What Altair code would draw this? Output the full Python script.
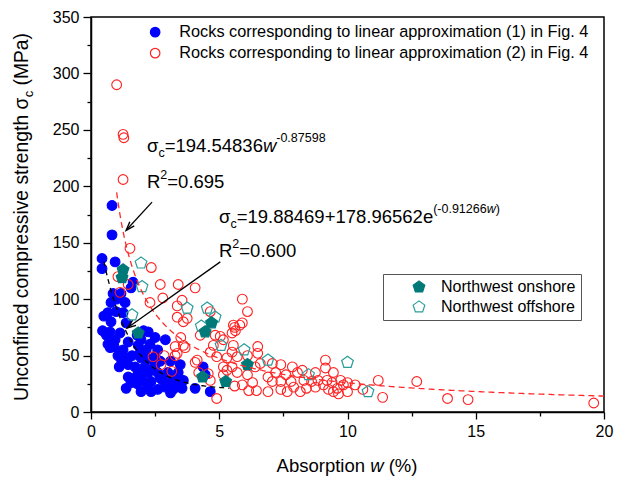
import math
import altair as alt
import pandas as pd

# ---------------- data ----------------
G1 = "Rocks corresponding to linear approximation (1) in Fig. 4"
G2 = "Rocks corresponding to linear approximation (2) in Fig. 4"
ON = "Northwest onshore"
OFF = "Northwest offshore"

blue_w = [0.82, 0.82, 0.43, 0.43, 0.94, 1.64, 1.56, 0.86, 1.17, 0.78, 1.33, 0.66, 0.98, 1.25,
          0.78, 1.37, 0.74, 1.13, 2.23, 2.5, 2.9, 1.45, 0.94, 1.95, 0.45, 0.6, 0.75, 0.9, 0.5,
          0.66, 1.05, 1.45, 1.84, 2.15, 1.95, 2.5, 1.45, 1.84, 2.23, 2.6, 3.0, 3.28, 1.37, 1.95,
          2.34, 2.9, 1.72, 2.1, 2.5, 1.56, 2.34, 3.48, 3.4, 3.6, 3.55, 3.2, 4.06, 4.37, 4.45,
          4.65, 1.2, 1.6, 1.7, 2.0, 2.2, 2.3, 2.7, 2.8, 3.1, 3.2, 2.6, 1.9, 2.0, 2.4, 2.7, 3.0,
          3.4, 1.8, 2.2, 2.6, 3.1, 1.25, 1.35, 1.1, 2.05, 1.8, 1.0]
blue_s = [183, 157, 136, 127, 133, 115, 110, 105, 105, 97, 97, 88, 89, 88,
          80, 79, 71, 70, 71, 66, 64, 62, 64, 64, 72, 68, 57, 58, 85,
          60, 50, 42, 59, 55, 48, 49, 31, 35, 35, 35, 35, 30, 21, 18,
          18, 22, 40, 40, 42, 26, 27, 42, 35, 28, 21, 20, 21, 40, 33,
          18, 45, 50, 30, 28, 47, 60, 45, 28, 45, 28, 55, 52, 36, 38, 30, 25,
          25, 25, 22, 20, 17, 55, 48, 40, 72, 68, 100]

red_w = [1.0, 1.25, 1.28, 1.25, 1.52, 2.35, 1.05, 1.13, 1.45, 2.7, 3.4, 4.06, 2.3, 2.8, 3.36,
         3.55, 3.36, 3.75, 4.26, 5.6, 3.5, 3.36, 3.67, 4.14, 4.2, 4.57, 4.9, 5.16, 2.42, 2.85,
         3.28, 2.73, 3.15, 3.6, 3.28, 3.6, 4.06, 4.77, 5.16, 5.55, 5.5, 5.8, 5.55, 5.63, 4.65,
         4.9, 5.3, 5.7, 6.1, 6.4, 5.3, 5.7, 6.1, 6.3, 5.9, 6.15, 6.45, 5.6, 4.65, 4.65, 6.1,
         5.9, 5.9, 5.04, 4.84, 6.5, 6.5, 6.6, 7.07, 7.4, 7.85, 8.24, 8.75, 9.14, 9.14, 9.45,
         9.73, 10.0, 10.3, 11.2, 11.37, 5.16, 6.9, 7.4, 7.65, 7.9, 8.16, 8.4, 8.75, 9.06, 9.26,
         9.45, 9.6, 9.84, 10.0, 9.65, 6.9, 7.2, 7.6, 7.07, 7.4, 7.8, 8.05, 8.3, 8.6, 8.85, 9.2,
         9.4, 5.5, 12.7, 13.9, 14.7, 19.6, 10.6, 5.5]
red_s = [290, 246, 243, 206, 145, 128, 120, 106, 113, 113, 113, 110, 97, 101, 94,
         99, 84, 83, 68, 75, 66, 52, 57, 46, 35, 34, 12, 33, 49, 50,
         50, 42, 36, 80, 58, 59, 44, 59, 64, 59, 70, 77, 77, 72, 53,
         49, 48, 49, 50, 40, 37, 35, 33, 26, 24, 19, 19, 23, 28, 89, 89,
         79, 100, 67, 68, 58, 52, 43, 43, 42, 40, 37, 35, 46, 39, 35,
         28, 26, 24, 28, 13, 40, 18, 20, 18, 22, 18, 21, 22, 24, 20,
         18, 21, 24, 18, 16, 31, 35, 33, 27, 27, 27, 35, 28, 27, 28, 28,
         26, 40, 27, 12, 11, 8, 20, 53]

on_w = [1.25, 1.21, 1.84, 4.7, 4.45, 4.35, 5.25, 6.1]
on_s = [126, 119, 70, 79, 71, 31, 27, 42]
off_w = [1.95, 1.99, 1.6, 3.75, 4.53, 4.3, 4.84, 5.07, 5.97, 6.9, 8.48, 10.0, 10.8]
off_s = [132, 111, 86, 92, 92, 76, 84, 59, 55, 46, 33, 44, 18]

x_tick_values = [0, 2.5, 5, 7.5, 10, 12.5, 15, 17.5, 20]
y_tick_values = [0, 25, 50, 75, 100, 125, 150, 175, 200, 225, 250, 275, 300, 325, 350]

# fitted models (as printed on the chart)
pow_a, pow_b = 194.54836, -0.87598
exp_a, exp_b, exp_c = 19.88469, 178.96562, -0.91266

# ---------------- layout ----------------
W, H = 513, 395
PAD = {"left": 91, "top": 17, "right": 22, "bottom": 66}
FONT = "Liberation Sans"
F = 18.5
FS = 12.5

EM = {" ": .278, "U": .722, "n": .556, "c": .5, "o": .556, "f": .278, "i": .222, "e": .556,
      "d": .556, "m": .833, "p": .556, "r": .333, "s": .5, "v": .5, "t": .278, "g": .556,
      "h": .556, "σ": .617, "(": .333, ")": .333, "M": .833, "P": .667, "a": .556, "A": .667,
      "b": .556, "w": .722, "%": .889, "R": .722, "=": .584, "+": .584, "-": .333, ".": .278}


def tw(s, size):
    return sum(EM.get(ch, .556) for ch in s) * size


one = pd.DataFrame({"k": [0]})


def txt(t, x, y, size=F, style="normal", angle=0, align="left", baseline="alphabetic"):
    kw = dict(text=t, font=FONT, fontSize=size, fontStyle=style, align=align,
              baseline=baseline, color="black")
    if angle:
        kw["angle"] = angle
    return alt.Chart(one).mark_text(**kw).encode(x=alt.value(x), y=alt.value(y))


def rich(pieces, x0, yb):
    out = []
    x = x0
    for t, size, style, dy in pieces:
        out.append(txt(t, x, yb + dy, size, style))
        x += tw(t, size)
    return out


xscale = alt.Scale(domain=[0, 20], nice=False, zero=False)
yscale = alt.Scale(domain=[0, 350], nice=False)

xaxis = alt.Axis(values=x_tick_values, title=None, grid=False,
                 labelExpr="datum.value % 5 === 0 ? datum.label : ''",
                 tickSize={"condition": {"test": "datum.value % 5 === 0", "value": 7}, "value": 4},
                 labelFlush=False, labelOverlap=False, labelPadding=4)
yaxis = alt.Axis(values=y_tick_values, title=None, grid=False,
                 labelExpr="datum.value % 50 === 0 ? datum.label : ''",
                 tickSize={"condition": {"test": "datum.value % 50 === 0", "value": 8}, "value": 4},
                 labelFlush=False, labelOverlap=False, labelPadding=4)

X = alt.X("w:Q", scale=xscale, axis=xaxis)
Y = alt.Y("s:Q", scale=yscale, axis=yaxis)

rocks = pd.DataFrame({"w": blue_w + red_w, "s": blue_s + red_s,
                      "g": [G1] * len(blue_w) + [G2] * len(red_w)})
nw = pd.DataFrame({"w": off_w + on_w, "s": off_s + on_s,
                   "r": [OFF] * len(off_w) + [ON] * len(on_w)})

leg1 = alt.Legend(title=None, orient="none", legendX=56, legendY=7, symbolType="circle",
                  symbolSize=90, symbolStrokeWidth=1.2, labelFontSize=16.3, labelFont=FONT,
                  rowPadding=4, labelOffset=16, padding=0, labelLimit=0, symbolOpacity=1)
points = alt.Chart(rocks).mark_point(shape="circle", size=95, strokeWidth=1.1, opacity=1).encode(
    x=X, y=Y,
    fill=alt.Fill("g:N", scale=alt.Scale(domain=[G1, G2], range=["#0000ff", "transparent"]), legend=leg1),
    stroke=alt.Stroke("g:N", scale=alt.Scale(domain=[G1, G2], range=["#0000ff", "#ff2020"]), legend=leg1),
)

PENT = "M0,-1L0.951,-0.309L0.588,0.809L-0.588,0.809L-0.951,-0.309Z"
leg2 = alt.Legend(title=None, orient="none", legendX=292, legendY=257, symbolType=PENT,
                  symbolSize=150, symbolStrokeWidth=1.2, padding=5, strokeColor="#555555",
                  symbolOffset=23, labelOffset=14, rowPadding=3, labelFontSize=16, labelFont=FONT,
                  labelLimit=0, symbolOpacity=1,
                  labelExpr="datum.label + '\u00a0\u00a0'")
teal = alt.Chart(nw).mark_point(shape=PENT, size=150, strokeWidth=1.2, opacity=1).encode(
    x=X, y=Y,
    fill=alt.Fill("r:N", scale=alt.Scale(domain=[ON, OFF], range=["#007a78", "transparent"]), legend=leg2),
    stroke=alt.Stroke("r:N", scale=alt.Scale(domain=[ON, OFF], range=["#007a78", "#2a9d9a"]), legend=leg2),
)

pow_curve = alt.Chart(alt.sequence(1.0, 20.001, 0.05, as_="w")).transform_calculate(
    s=f"{pow_a}*pow(datum.w,{pow_b})"
).mark_line(color="#ff2a2a", strokeDash=[6, 4], strokeWidth=1.3).encode(x=X, y=Y)

exp_curve = alt.Chart(alt.sequence(0.5, 5.45, 0.05, as_="w")).transform_calculate(
    s=f"{exp_a}+{exp_b}*exp({exp_c}*datum.w)"
).mark_line(color="black", strokeDash=[5, 4], strokeWidth=1.3).encode(x=X, y=Y)

# arrows (annotation geometry, in data units)
ar_tail_w = [2.38, 5.04]
ar_tail_s = [186, 133]
ar_head_w = [1.37, 1.41]
ar_head_s = [161, 74.5]
pxw, pxs = W / 20.0, H / 350.0
ang = []
for tw_, ts_, hw_, hs_ in zip(ar_tail_w, ar_tail_s, ar_head_w, ar_head_s):
    dx = (hw_ - tw_) * pxw
    dy = -(hs_ - ts_) * pxs
    ang.append((math.degrees(math.atan2(dx, -dy)) + 360) % 360)
arrows = pd.DataFrame({"w": ar_tail_w, "s": ar_tail_s, "w2": ar_head_w, "s2": ar_head_s, "a": ang})
arrow_lines = alt.Chart(arrows).mark_rule(color="black", strokeWidth=1.3).encode(
    x=X, y=Y, x2="w2:Q", y2="s2:Q")
ARROW = "M-0.45,1.3L0,0L0.45,1.3"
arrow_heads = alt.Chart(arrows).mark_point(shape=ARROW, size=180, filled=False, color="black",
                                            strokeWidth=1.4, opacity=1).encode(
    x=alt.X("w2:Q", scale=xscale, axis=xaxis), y=alt.Y("s2:Q", scale=yscale, axis=yaxis),
    angle=alt.Angle("a:Q", scale=None))

# annotation texts
texts = []
texts += rich([("σ", F, "normal", 0), ("c", FS, "normal", 5), ("=194.54836", F, "normal", 0),
               ("w", F, "italic", 0), ("-0.87598", FS, "normal", -10)], 56, 135)
texts += rich([("R", F, "normal", 0), ("2", FS, "normal", -9), ("=0.695", F, "normal", 0)], 56, 171)
texts += rich([("σ", F, "normal", 0), ("c", FS, "normal", 5), ("=19.88469+178.96562e", F, "normal", 0),
               ("(-0.91266", FS, "normal", -10), ("w", FS, "italic", -10), (")", FS, "normal", -10)], 128, 206)
texts += rich([("R", F, "normal", 0), ("2", FS, "normal", -9), ("=0.600", F, "normal", 0)], 128, 240)

# x axis title: "Absorption w (%)"
FT = 18.5
sp = tw(" ", FT)
xt_total = tw("Absorption", FT) + sp + tw("w", FT) + sp + tw("(%)", FT)
x0 = 256 - xt_total / 2
xb = 455
texts.append(txt("Absorption", x0, xb, FT))
x0 += tw("Absorption", FT) + sp
texts.append(txt("w", x0, xb, FT, "italic"))
x0 += tw("w", FT) + sp
texts.append(txt("(%)", x0, xb, FT))

# y axis title: "Unconfined compressive strength σc (MPa)" rotated
FY = 19.3
FYS = 13
spy = tw(" ", FY)
seg1 = "Unconfined compressive strength σ"
yt_total = tw(seg1, FY) + tw("c", FYS) + spy + tw("(MPa)", FY)
ybot = 200 + yt_total / 2
xbl = -63
texts.append(txt(seg1, xbl, ybot, FY, angle=270))
yy = ybot - tw(seg1, FY)
texts.append(txt("c", xbl + 5, yy, FYS, angle=270))
yy -= tw("c", FYS) + spy
texts.append(txt("(MPa)", xbl, yy, FY, angle=270))

chart = alt.layer(points, teal, pow_curve, exp_curve, arrow_lines, arrow_heads, *texts).resolve_scale(
    fill="independent", stroke="independent"
).properties(
    width=W, height=H, autosize=alt.AutoSizeParams(type="none"), padding=PAD
).configure_view(
    stroke="black", strokeWidth=1.5
).configure_axis(
    labelFont=FONT, labelFontSize=16, labelColor="black", domainColor="black",
    tickColor="black", domainWidth=1.5, tickWidth=1.3
).configure_legend(
    labelFont=FONT, labelColor="black"
)

chart.save("out.html", embed_options={"renderer": "svg", "actions": False})
